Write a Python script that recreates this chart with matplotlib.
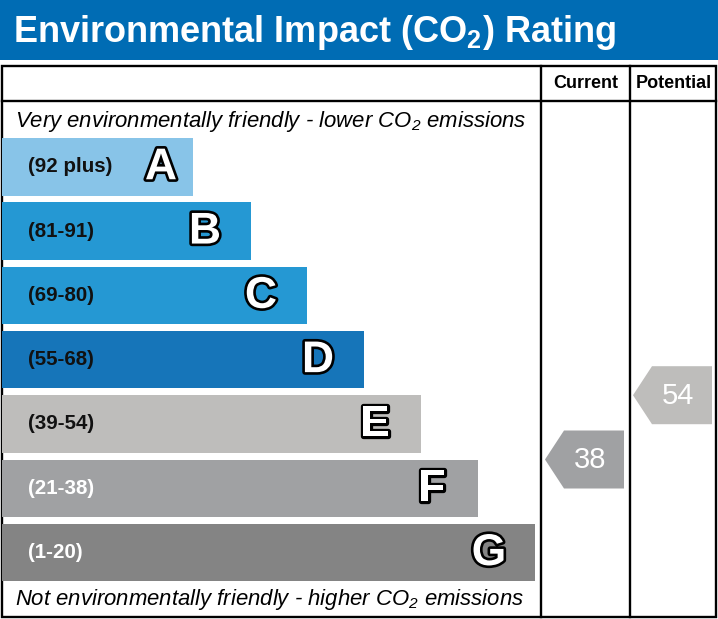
import matplotlib
matplotlib.use("Agg")
import matplotlib.pyplot as plt
from matplotlib.patches import Rectangle, Polygon
import matplotlib.patheffects as pe

# ---- data ----
bands = ['A', 'B', 'C', 'D', 'E', 'F', 'G']
ranges = ['(92 plus)', '(81-91)', '(69-80)', '(55-68)', '(39-54)', '(21-38)', '(1-20)']
lows = [92, 81, 69, 55, 39, 21, 1]
bar_len = [191, 249, 305, 362, 419, 476, 533]
colors = ['#88c4e8', '#2598d3', '#2598d3', '#1675b9', '#bebdbb', '#a0a1a3', '#848484']
label_colors = ['#111111', '#111111', '#111111', '#111111', '#111111', '#ffffff', '#ffffff']
current = 38
potential = 54
title = r'Environmental Impact (CO$_\mathbf{2}$) Rating'
top_note = r'Very environmentally friendly - lower CO$_\mathregular{2}$ emissions'
bottom_note = r'Not environmentally friendly - higher CO$_\mathregular{2}$ emissions'
col_labels = ['Current', 'Potential']

FONT = ['Liberation Sans', 'DejaVu Sans']
plt.rcParams['font.family'] = FONT
plt.rcParams['mathtext.fontset'] = 'custom'
plt.rcParams['mathtext.rm'] = 'Liberation Sans'
plt.rcParams['mathtext.it'] = 'Liberation Sans:italic'
plt.rcParams['mathtext.bf'] = 'Liberation Sans:bold'

W, H = 718, 619
fig = plt.figure(figsize=(W / 100, H / 100), dpi=100)
ax = fig.add_axes([0, 0, 1, 1])
ax.set_xlim(0, W)
ax.set_ylim(H, 0)
ax.axis('off')

# header band
ax.add_patch(Rectangle((0, 0), W, 60, color='#006cb4', lw=0))
ax.text(13, 42, title, color='white', fontsize=26, fontweight='bold',
        va='baseline', ha='left')

# frame
lw = 1.7
ax.add_patch(Rectangle((1.5, 66), 714.5, 550.5, fill=False, ec='black', lw=lw))
ax.plot([1.5, 716], [101, 101], color='black', lw=lw)
ax.plot([541, 541], [66, 616.5], color='black', lw=lw)
ax.plot([630, 630], [66, 616.5], color='black', lw=lw)
ax.text(585.5, 84, col_labels[0], fontsize=13, fontweight='bold', ha='center', va='center')
ax.text(673.5, 84, col_labels[1], fontsize=13, fontweight='bold', ha='center', va='center')

ax.text(15, 127, top_note, fontsize=15.9, style='italic', ha='left', va='baseline')
ax.text(15, 605, bottom_note, fontsize=15.9, style='italic', ha='left', va='baseline')

# bars
top0, step, bh = 138, 64.3, 57.5
tops = [top0 + i * step for i in range(len(bands))]
centers = [t + bh / 2 for t in tops]
ax.barh(centers, bar_len, height=bh, left=2, color=colors, lw=0)
for i, b in enumerate(bands):
    ax.text(28, centers[i], ranges[i], fontsize=14.8, fontweight='bold',
            color=label_colors[i], ha='left', va='center')
    off = 32 if i == 0 else 46
    ax.text(2 + bar_len[i] - off, centers[i] + 1, b, fontsize=32, fontweight='bold',
            color='white', ha='center', va='center',
            path_effects=[pe.Stroke(linewidth=3.8, foreground='black'), pe.Normal()])


def band_index(v):
    for i, lo in enumerate(lows):
        if v >= lo:
            return i
    return len(lows) - 1


def arrow(v, x_tip, x_right):
    i = band_index(v)
    yc = tops[i]
    h = 58
    pts = [(x_tip, yc), (x_tip + 19, yc - h / 2), (x_right, yc - h / 2),
           (x_right, yc + h / 2), (x_tip + 19, yc + h / 2)]
    ax.add_patch(Polygon(pts, closed=True, color=colors[i], lw=0))
    ax.text((x_tip + x_right) / 2 + 5.5, yc + 1, str(v), fontsize=21,
            color='white', ha='center', va='center')


arrow(current, 545, 624)
arrow(potential, 633, 712)

fig.savefig('out.png', dpi=100)
